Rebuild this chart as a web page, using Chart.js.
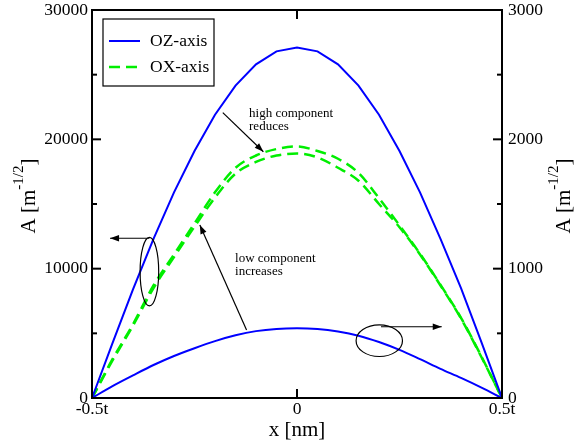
<!DOCTYPE html>
<html>
<head>
<meta charset="utf-8">
<script src="https://cdn.jsdelivr.net/npm/chart.js@4.4.1/dist/chart.umd.min.js"></script>
<style>
  html, body { margin: 0; padding: 0; background: #fff; }
  #wrap { width: 574px; height: 445px; }
</style>
</head>
<body>
<div id="wrap"><canvas id="chart" width="574" height="445"></canvas></div>
<script>
// positions across the layer, in units of t
const xPos = [-0.5, -0.45, -0.4, -0.35, -0.3, -0.25, -0.2, -0.15, -0.1, -0.05, 0,
              0.05, 0.1, 0.15, 0.2, 0.25, 0.3, 0.35, 0.4, 0.45, 0.5];

// OZ-axis, high component (left axis)
const ozHigh = [0, 4250, 8400, 12300, 15900, 19100, 21900, 24150, 25800, 26800, 27100,
                26800, 25800, 24150, 21900, 19100, 15900, 12300, 8500, 4300, 0];
// OZ-axis, low component (right axis)
const ozLow = [0, 92, 175, 255, 325, 385, 440, 485, 517, 534, 539,
               533, 514, 482, 433, 372, 300, 225, 155, 80, 0];
// OX-axis, two nearly overlapping curves (left axis)
const oxUpper = [0, 3000, 5700, 8700, 11100, 13500, 15900, 17800, 18750, 19250, 19450,
                 19100, 18500, 17400, 15450, 13350, 11150, 8750, 6200, 3200, 0];
const oxLower = [0, 2900, 5600, 8500, 10900, 13250, 15500, 17350, 18250, 18750, 18900,
                 18600, 17800, 16800, 15000, 13200, 11100, 8700, 6150, 3150, 0];

const seriesNames = ['OZ-axis', 'OX-axis'];
const xTickLabels = { '-0.5': '-0.5t', '0': '0', '0.5': '0.5t' };

// annotations, in data units (x in t, y on the left axis)
const noteTexts = [
  { lines: ['high component', 'reduces'], x: -0.117, y: 22010 },
  { lines: ['low component', 'increases'], x: -0.151, y: 10800 }
];
const noteArrows = [
  { from: [-0.181, 22060], to: [-0.082, 19040] },
  { from: [-0.123, 5260], to: [-0.237, 13380] },
  { from: [-0.36, 12350], to: [-0.456, 12350] },
  { from: [0.2048, 5510], to: [0.353, 5510] }
];
const noteEllipses = [
  { x: -0.36, y: 9770, rx: 9.3, ry: 34.3 },
  { x: 0.2007, y: 4430, rx: 23.2, ry: 15.8 }
];

const BLUE = '#0000ff';
const GREEN = '#00ee00';
const SERIF = "'Liberation Serif', 'DejaVu Serif', serif";

const pts = arr => xPos.map((x, i) => ({ x: x, y: arr[i] }));

function arrow(ctx, x0, y0, x1, y1) {
  const ang = Math.atan2(y1 - y0, x1 - x0);
  ctx.beginPath();
  ctx.moveTo(x0, y0);
  ctx.lineTo(x1, y1);
  ctx.stroke();
  ctx.beginPath();
  ctx.moveTo(x1, y1);
  ctx.lineTo(x1 - 9 * Math.cos(ang) + 3.2 * Math.sin(ang), y1 - 9 * Math.sin(ang) - 3.2 * Math.cos(ang));
  ctx.lineTo(x1 - 9 * Math.cos(ang) - 3.2 * Math.sin(ang), y1 - 9 * Math.sin(ang) + 3.2 * Math.cos(ang));
  ctx.closePath();
  ctx.fill();
}

function sideTitle(ctx, cx, cy) {
  const base = '21px ' + SERIF, sup = '15px ' + SERIF;
  ctx.save();
  ctx.translate(cx, cy);
  ctx.rotate(-Math.PI / 2);
  ctx.fillStyle = '#000';
  ctx.textAlign = 'left';
  ctx.textBaseline = 'alphabetic';
  ctx.font = base;
  const w1 = ctx.measureText('A [m').width;
  const w3 = ctx.measureText(']').width;
  ctx.font = sup;
  const w2 = ctx.measureText('-1/2').width;
  let x = -(w1 + w2 + w3) / 2;
  const yb = 7;
  ctx.font = base;
  ctx.fillText('A [m', x, yb); x += w1;
  ctx.font = sup;
  ctx.fillText('-1/2', x, yb - 12); x += w2;
  ctx.font = base;
  ctx.fillText(']', x, yb);
  ctx.restore();
}

const decor = {
  id: 'decor',
  afterDraw(chart) {
    const { ctx, chartArea: a, scales } = chart;
    const sx = scales.x, sy = scales.y, sy1 = scales.y1;
    ctx.save();
    ctx.strokeStyle = '#000';
    ctx.fillStyle = '#000';

    // frame
    ctx.lineWidth = 2;
    ctx.strokeRect(a.left, a.top, a.right - a.left, a.bottom - a.top);

    // inward ticks
    for (let v = 0; v <= 30000; v += 5000) {
      const p = sy.getPixelForValue(v);
      const len = v % 10000 === 0 ? 9 : 5;
      ctx.beginPath(); ctx.moveTo(a.left, p); ctx.lineTo(a.left + len, p); ctx.stroke();
    }
    for (let v = 0; v <= 3000; v += 500) {
      const p = sy1.getPixelForValue(v);
      const len = v % 1000 === 0 ? 9 : 5;
      ctx.beginPath(); ctx.moveTo(a.right, p); ctx.lineTo(a.right - len, p); ctx.stroke();
    }
    [-0.5, 0, 0.5].forEach(v => {
      const p = sx.getPixelForValue(v);
      ctx.beginPath(); ctx.moveTo(p, a.bottom); ctx.lineTo(p, a.bottom - 9); ctx.stroke();
      ctx.beginPath(); ctx.moveTo(p, a.top); ctx.lineTo(p, a.top + 9); ctx.stroke();
    });

    // annotations
    ctx.lineWidth = 1.2;
    noteEllipses.forEach(e => {
      ctx.beginPath();
      ctx.ellipse(sx.getPixelForValue(e.x), sy.getPixelForValue(e.y), e.rx, e.ry, 0, 0, Math.PI * 2);
      ctx.stroke();
    });
    noteArrows.forEach(n => {
      arrow(ctx, sx.getPixelForValue(n.from[0]), sy.getPixelForValue(n.from[1]),
                 sx.getPixelForValue(n.to[0]), sy.getPixelForValue(n.to[1]));
    });
    ctx.font = '13px ' + SERIF;
    ctx.textAlign = 'left';
    ctx.textBaseline = 'middle';
    noteTexts.forEach(n => {
      const px = sx.getPixelForValue(n.x), py = sy.getPixelForValue(n.y);
      n.lines.forEach((t, i) => ctx.fillText(t, px, py + i * 13.3));
    });

    // legend box
    const lx = a.left + 11, ly = a.top + 9;
    ctx.lineWidth = 1.2;
    ctx.strokeRect(lx, ly, 111, 67);
    ctx.font = '17.5px ' + SERIF;
    ctx.textBaseline = 'middle';
    ctx.lineWidth = 2;
    ctx.strokeStyle = BLUE;
    ctx.beginPath(); ctx.moveTo(lx + 6, ly + 22); ctx.lineTo(lx + 37, ly + 22); ctx.stroke();
    ctx.strokeStyle = GREEN;
    ctx.lineWidth = 2.5;
    ctx.setLineDash([11, 6]);
    ctx.beginPath(); ctx.moveTo(lx + 6, ly + 48); ctx.lineTo(lx + 37, ly + 48); ctx.stroke();
    ctx.setLineDash([]);
    ctx.fillStyle = '#000';
    ctx.fillText(seriesNames[0], lx + 47, ly + 22);
    ctx.fillText(seriesNames[1], lx + 47, ly + 48);

    // axis titles
    ctx.font = '21px ' + SERIF;
    ctx.textAlign = 'center';
    ctx.textBaseline = 'middle';
    ctx.fillText('x [nm]', (a.left + a.right) / 2, 430);
    ctx.restore();

    sideTitle(ctx, 28, 196);
    sideTitle(ctx, 563, 196);
  }
};

const tickFont = { family: SERIF, size: 17.5 };

new Chart(document.getElementById('chart'), {
  type: 'line',
  data: {
    datasets: [
      { label: seriesNames[0], data: pts(ozHigh), yAxisID: 'y', borderColor: BLUE, borderWidth: 2, tension: 0, pointRadius: 0 },
      { label: seriesNames[0], data: pts(ozLow), yAxisID: 'y1', borderColor: BLUE, borderWidth: 2, cubicInterpolationMode: 'monotone', pointRadius: 0 },
      { label: seriesNames[1], data: pts(oxUpper), yAxisID: 'y', borderColor: GREEN, borderWidth: 2.5, borderDash: [11, 6], cubicInterpolationMode: 'monotone', pointRadius: 0 },
      { label: seriesNames[1], data: pts(oxLower), yAxisID: 'y', borderColor: GREEN, borderWidth: 2.5, borderDash: [11, 6], cubicInterpolationMode: 'monotone', pointRadius: 0 }
    ]
  },
  options: {
    responsive: false,
    animation: false,
    layout: { padding: { top: 10, left: 0, right: 0, bottom: 0 } },
    plugins: { legend: { display: false }, tooltip: { enabled: false } },
    scales: {
      x: {
        type: 'linear', min: -0.5, max: 0.5,
        grid: { display: false }, border: { display: false },
        ticks: {
          stepSize: 0.5, autoSkip: false, maxRotation: 0, padding: -7,
          color: '#000', font: tickFont,
          callback: v => xTickLabels[String(v)] || ''
        },
        afterFit: s => { s.height = 47; }
      },
      y: {
        position: 'left', min: 0, max: 30000,
        grid: { display: false }, border: { display: false },
        ticks: {
          stepSize: 5000, autoSkip: false, padding: -4,
          color: '#000', font: tickFont,
          callback: v => (v % 10000 === 0 ? String(v) : '')
        },
        afterFit: s => { s.width = 92; }
      },
      y1: {
        position: 'right', min: 0, max: 3000,
        grid: { display: false }, border: { display: false },
        ticks: {
          stepSize: 500, autoSkip: false, padding: -2,
          color: '#000', font: tickFont,
          callback: v => (v % 1000 === 0 ? String(v) : '')
        },
        afterFit: s => { s.width = 72; }
      }
    }
  },
  plugins: [decor]
});
</script>
</body>
</html>
